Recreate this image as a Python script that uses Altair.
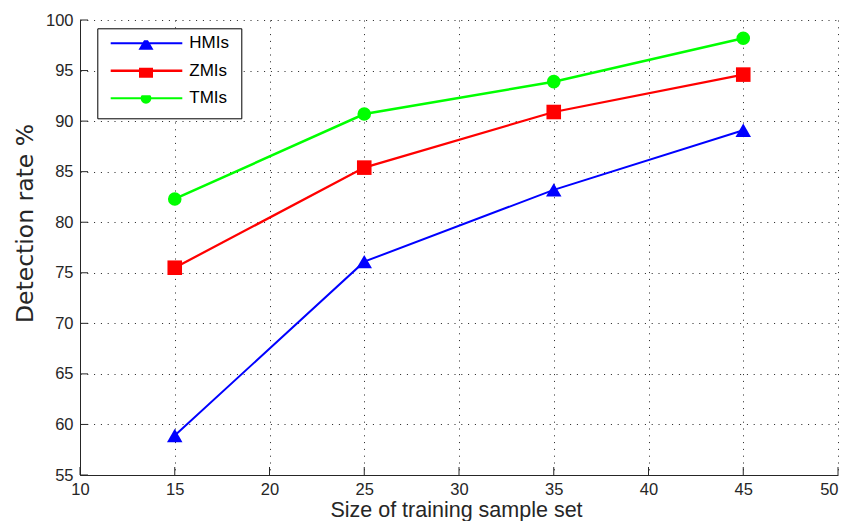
import altair as alt
import pandas as pd

# ---- data ----
sample_sizes = [15, 25, 35, 45]
hmis = [58.9, 76.1, 83.2, 89.1]
zmis = [75.5, 85.4, 90.9, 94.6]
tmis = [82.3, 90.7, 93.9, 98.2]
series_names = ["HMIs", "ZMIs", "TMIs"]
series_colors = ["#0000ff", "#ff0000", "#00ff00"]
x_ticks = [10, 15, 20, 25, 30, 35, 40, 45, 50]
y_ticks = [55, 60, 65, 70, 75, 80, 85, 90, 95, 100]

rows = []
for name, vals in zip(series_names, [hmis, zmis, tmis]):
    for s, v in zip(sample_sizes, vals):
        rows.append({"size": s, "rate": v, "series": name})
df = pd.DataFrame(rows)
xt = pd.DataFrame({"t": x_ticks})
yt = pd.DataFrame({"t": y_ticks})

FONT = "Liberation Sans, Arial, sans-serif"
W, H = 758, 455

# ---- legend symbols: line + marker as one custom path ----
PAD = 12
R = 36.5  # px per path unit (sqrt(symbolSize)/2)


def u(px):
    return round(px / R, 4)


uc = round(36.7 / R - 1, 4)  # marker centre
x0 = round(1.4 / R - 1, 4)   # line start


def line_part(half):
    t = u(half)
    return f"M{x0},{-t}H1V{t}H{x0}Z "


tri = (f"M{uc - u(7.5)},{u(6.5)}L{uc},{-u(6.5)}L{uc + u(7.5)},{u(6.5)}Z")
sq = (f"M{uc - u(7)},{-u(7)}H{uc + u(7)}V{u(7)}H{uc - u(7)}Z")
cr = u(5.4)
circ = (f"M{uc - cr},0A{cr},{cr} 0 1,1 {uc + cr},0A{cr},{cr} 0 1,1 {uc - cr},0Z")
legend_paths = [line_part(1.0) + tri,
                line_part(1.25) + sq,
                line_part(1.0) + circ]

xscale = alt.Scale(domain=[10, 50], nice=False, zero=False)
yscale = alt.Scale(domain=[55, 100], nice=False, zero=False)

xaxis = alt.Axis(values=x_ticks, title="Size of training sample set", ticks=False,
                 labelPadding=6, titleY=41, titleX=376, titleBaseline="alphabetic",
                 labelFlush=False,
                 labelAlign=alt.ExprRef("datum.value == 50 ? 'right' : 'center'"))
yaxis = alt.Axis(values=y_ticks, title="Detection rate %", ticks=False,
                 labelPadding=7, titleX=-48, titleY=203, titleBaseline="alphabetic",
                 titleAngle=270, labelFlush=False,
                 titleFont="DejaVu Sans", titleFontSize=23.5)

color_scale = alt.Scale(domain=series_names, range=series_colors)

lines = alt.Chart(df).mark_line().encode(
    x=alt.X("size:Q", scale=xscale, axis=xaxis),
    y=alt.Y("rate:Q", scale=yscale, axis=yaxis),
    color=alt.Color("series:N", scale=color_scale, legend=None),
    strokeWidth=alt.StrokeWidth("series:N", scale=alt.Scale(domain=series_names, range=[2, 2.5, 2.5]), legend=None),
)

points = alt.Chart(df).mark_point(filled=True, opacity=1).encode(
    x="size:Q",
    y="rate:Q",
    color=alt.Color("series:N", scale=color_scale, legend=None),
    shape=alt.Shape("series:N", scale=alt.Scale(domain=series_names, range=["triangle-up", "square", "circle"]), legend=None),
    size=alt.Size("series:N", scale=alt.Scale(domain=series_names, range=[240, 185, 120]), legend=None),
)

leg = alt.Legend(title=None, orient="none", legendX=17.3, legendY=8.3, padding=PAD,
                 strokeColor="#000000", fillColor="#ffffff", cornerRadius=0,
                 labelFont=FONT, labelFontSize=17, labelColor="#000000", labelOffset=7,
                 symbolSize=(2 * R) ** 2, symbolStrokeWidth=0, symbolOpacity=1,
                 clipHeight=6, rowPadding=10.5, labelLimit=300)

legend_layer = alt.Chart(df).mark_point(filled=True, opacity=1).encode(
    x="size:Q",
    y="rate:Q",
    color=alt.Color("series:N", scale=alt.Scale(domain=series_names, range=series_colors), legend=leg),
    shape=alt.Shape("series:N", scale=alt.Scale(domain=series_names, range=legend_paths), legend=leg),
).transform_filter("false")

xtick_rules = alt.Chart(xt).mark_rule(color="#262626", strokeWidth=1).encode(
    x=alt.X("t:Q", scale=xscale),
    y=alt.value(H),
    y2=alt.value(H - 8),
)
ytick_rules = alt.Chart(yt).mark_rule(color="#262626", strokeWidth=1).encode(
    y=alt.Y("t:Q", scale=yscale),
    x=alt.value(0),
    x2=alt.value(8),
)

chart = alt.layer(xtick_rules, ytick_rules, lines, points, legend_layer).resolve_scale(
    shape="independent", color="independent"
).properties(
    width=W, height=H, autosize="none",
    padding={"left": 72, "top": 12, "right": 2, "bottom": 46},
    background="#ffffff",
).configure_view(stroke=None).configure_axis(
    labelFont=FONT, labelFontSize=16.5, labelColor="#262626",
    titleFont=FONT, titleFontSize=21.5, titleColor="#262626", titleFontWeight="normal",
    domainColor="#262626", domainWidth=1,
    grid=True, gridColor="#202020", gridDash=[1, 5.8], gridWidth=1, gridOpacity=1,
)

chart.save("out.html", embed_options={"renderer": "svg", "actions": False})
